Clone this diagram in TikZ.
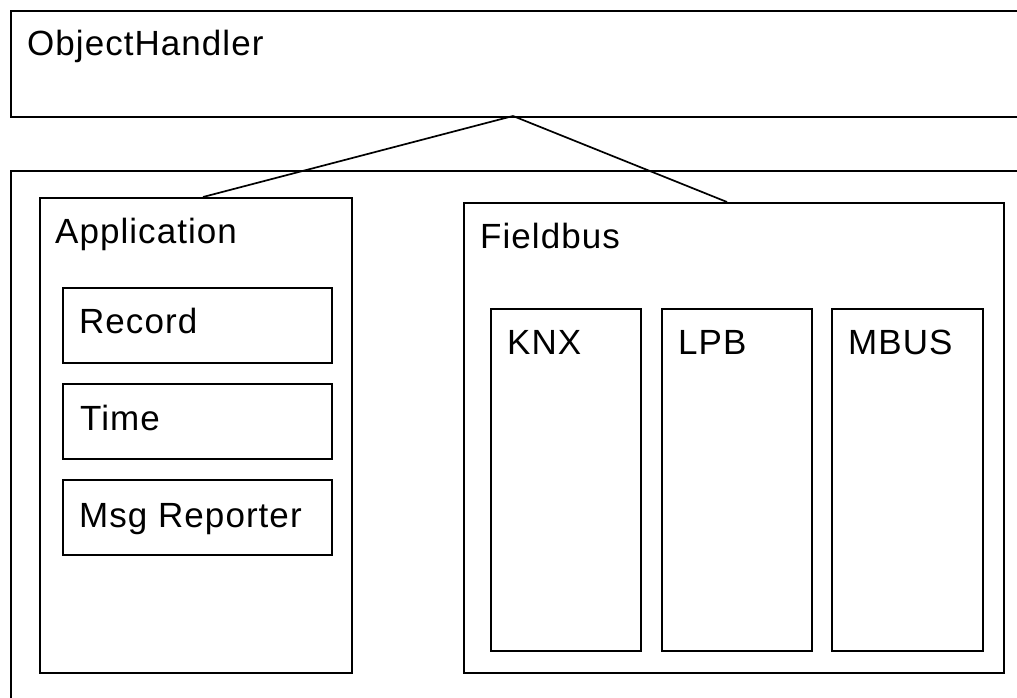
\documentclass[tikz,border=0pt]{standalone}
\usepackage{fontspec}
\setmainfont{Liberation Sans}[LetterSpace=3]
\begin{document}
\begin{tikzpicture}[x=1pt,y=-1pt,
  box/.style={draw=black, line width=1.9pt, rectangle, inner sep=0pt, anchor=north west},
  lbl/.style={anchor=base west, inner sep=0pt, font=\fontsize{35}{42}\selectfont},
  link/.style={draw=black, line width=1.7pt}]
\useasboundingbox (0,0) rectangle (1017,697);
\clip (0,0) rectangle (1017,697);
% ObjectHandler (extends past right edge)
\node[box, minimum width=1040pt, minimum height=106pt] (oh) at (10,10) {};
\node[lbl] (ohl) at (27,55) {ObjectHandler};
% outer container (extends past right and bottom edges)
\node[box, minimum width=1040pt, minimum height=560pt] (outer) at (10,170) {};
% Application
\node[box, minimum width=312pt, minimum height=475pt] (app) at (39,197) {};
\node[lbl] (appl) at (55,243) {Application};
\node[box, minimum width=269pt, minimum height=75pt] (rec) at (62,287) {};
\node[lbl] (recl) at (79,333) {Record};
\node[box, minimum width=269pt, minimum height=75pt] (time) at (62,383) {};
\node[lbl] (timel) at (80,430) {Time};
\node[box, minimum width=269pt, minimum height=75pt] (msg) at (62,479) {};
\node[lbl] (msgl) at (79,527) {Msg Reporter};
% Fieldbus
\node[box, minimum width=540pt, minimum height=470pt] (fb) at (463,202) {};
\node[lbl] (fbl) at (480,248) {Fieldbus};
\node[box, minimum width=150pt, minimum height=342pt] (knx) at (490,308) {};
\node[lbl] (knxl) at (507,354) {KNX};
\node[box, minimum width=150pt, minimum height=342pt] (lpb) at (661,308) {};
\node[lbl] (lpbl) at (678,354) {LPB};
\node[box, minimum width=151pt, minimum height=342pt] (mbus) at (831,308) {};
\node[lbl] (mbusl) at (848,354) {MBUS};
% connectors
\coordinate (ohp) at (513,116);
\coordinate (appp) at (203,197);
\coordinate (fbp) at (727,202);
\draw[link] (ohp) -- (appp);
\draw[link] (ohp) -- (fbp);
\end{tikzpicture}
\end{document}
